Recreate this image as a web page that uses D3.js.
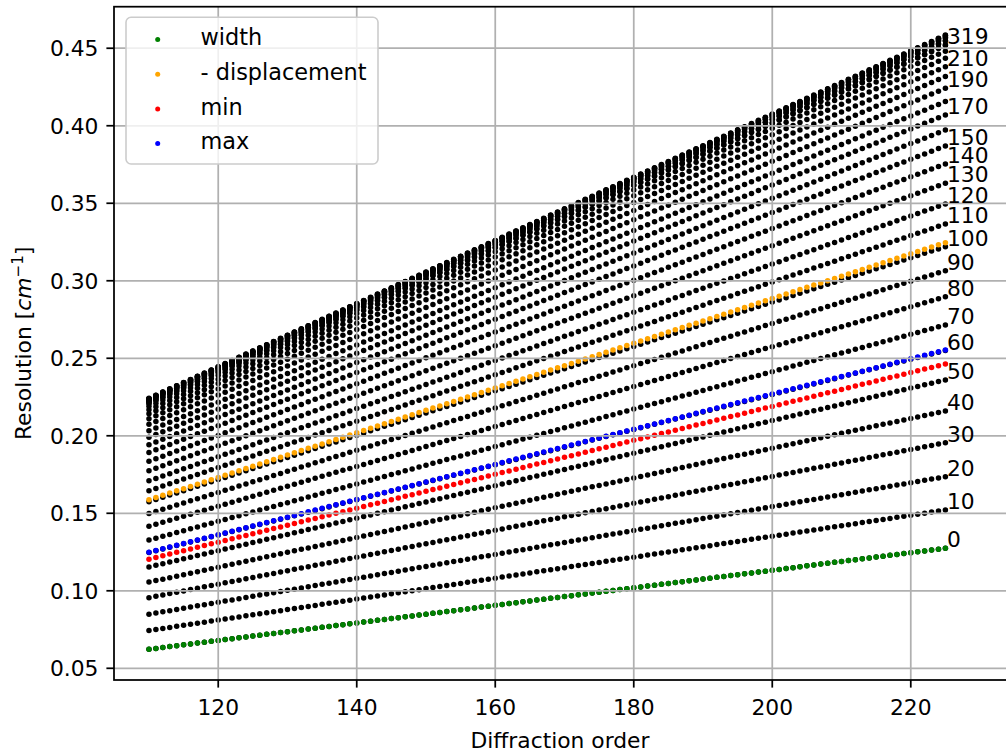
<!DOCTYPE html>
<html>
<head>
<meta charset="utf-8">
<script src="https://cdn.jsdelivr.net/npm/d3@7"></script>
<style>
  body { margin: 0; background: #fff; }
  svg { display: block; font-family: "DejaVu Sans", sans-serif; }
</style>
</head>
<body>
<svg id="chart" width="1006" height="755"></svg>
<script>
// Diffraction orders covered by every curve (one dot per order)
const orders = d3.range(110, 226);
const lastOrder = 225;

// Detector pixel offsets, one black curve each
const pixelOffsets = [0, 10, 20, 30, 40, 50, 60, 70, 80, 90, 100, 110, 120, 130, 140, 150,
  160, 170, 180, 190, 200, 210, 220, 230, 240, 250, 260, 270, 280, 290, 300, 310, 319];
// Resolution [cm^-1] of each pixel curve at the last order (scales linearly with order)
const pixelResolutionAtLast = [0.1274, 0.1521, 0.1736, 0.1955, 0.2160, 0.2360, 0.2550, 0.2715,
  0.2897, 0.3065, 0.3220, 0.3366, 0.3496, 0.3629, 0.3754, 0.3870, 0.3973, 0.4070, 0.4156,
  0.4242, 0.4317, 0.4381, 0.4435, 0.4481, 0.4518, 0.4548, 0.4568, 0.4581, 0.4585, 0.4581,
  0.4568, 0.4548, 0.4522];
// Curves whose pixel offset is written at the right end
const labelledOffsets = [0, 10, 20, 30, 40, 50, 60, 70, 80, 90, 100, 110, 120, 130, 140, 150,
  170, 190, 210, 319];

// Highlighted series
const seriesNames = ["width", "- displacement", "min", "max"];
const seriesColors = ["green", "orange", "red", "blue"];
const seriesResolutionAtLast = [0.1274, 0.3246, 0.2463, 0.2553];

const xTicks = [120, 140, 160, 180, 200, 220];
const yTicks = [0.05, 0.10, 0.15, 0.20, 0.25, 0.30, 0.35, 0.40, 0.45];

const FS = 21.8;           // 10 pt text
const plot = { left: 114, right: 1006, top: 6.7, bottom: 680 };
const frameRight = 1012;   // axes continue past the right edge of the figure

const svg = d3.select("#chart");
const x = d3.scaleLinear().domain([104.95, 233.75]).range([plot.left, plot.right]);
const y = d3.scaleLinear().domain([0.04245, 0.4768]).range([plot.bottom, plot.top]);

const curve = r => orders.map(o => ({ o, v: r * o / lastOrder }));
const dotR = 2.75;

// clip to the axes area
svg.append("defs").append("clipPath").attr("id", "clip")
  .append("rect").attr("x", plot.left).attr("y", plot.top)
  .attr("width", frameRight - plot.left).attr("height", plot.bottom - plot.top);

const dots = svg.append("g").attr("clip-path", "url(#clip)");

// black pixel curves
pixelOffsets.forEach((p, i) => {
  dots.append("g").selectAll("circle").data(curve(pixelResolutionAtLast[i])).join("circle")
    .attr("cx", d => x(d.o)).attr("cy", d => y(d.v)).attr("r", dotR).attr("fill", "black");
});

// coloured series on top
seriesNames.forEach((n, i) => {
  dots.append("g").selectAll("circle").data(curve(seriesResolutionAtLast[i])).join("circle")
    .attr("cx", d => x(d.o)).attr("cy", d => y(d.v)).attr("r", dotR).attr("fill", seriesColors[i]);
});

// grid (drawn above the scatter points)
const grid = svg.append("g").attr("stroke", "#b0b0b0").attr("stroke-width", 1.75);
grid.selectAll(".gx").data(xTicks).join("line")
  .attr("x1", d => x(d)).attr("x2", d => x(d)).attr("y1", plot.top).attr("y2", plot.bottom);
grid.selectAll(".gy").data(yTicks).join("line")
  .attr("y1", d => y(d)).attr("y2", d => y(d)).attr("x1", plot.left).attr("x2", frameRight);

// pixel offset labels at the right end of each curve
const labels = svg.append("g").attr("font-size", FS).attr("fill", "black");
labelledOffsets.forEach(p => {
  const i = pixelOffsets.indexOf(p);
  labels.append("text")
    .attr("x", x(lastOrder) + 1.5)
    .attr("y", y(pixelResolutionAtLast[i]) - 1)
    .text(p);
});

// axes frame
svg.append("rect")
  .attr("x", plot.left).attr("y", plot.top)
  .attr("width", frameRight - plot.left).attr("height", plot.bottom - plot.top)
  .attr("fill", "none").attr("stroke", "black").attr("stroke-width", 1.75);

// ticks
const tickLen = 7.6;
const axisG = svg.append("g").attr("stroke", "black").attr("stroke-width", 1.75);
axisG.selectAll(".tx").data(xTicks).join("line")
  .attr("x1", d => x(d)).attr("x2", d => x(d)).attr("y1", plot.bottom).attr("y2", plot.bottom + tickLen);
axisG.selectAll(".ty").data(yTicks).join("line")
  .attr("y1", d => y(d)).attr("y2", d => y(d)).attr("x1", plot.left - tickLen).attr("x2", plot.left);

const tickText = svg.append("g").attr("font-size", FS).attr("fill", "black");
tickText.selectAll(".lx").data(xTicks).join("text")
  .attr("x", d => x(d)).attr("y", 714.5).attr("text-anchor", "middle").text(d => d);
tickText.selectAll(".ly").data(yTicks).join("text")
  .attr("x", 98.5).attr("y", d => y(d) + 8.2).attr("text-anchor", "end").text(d => d3.format(".2f")(d));

// axis titles
svg.append("text").attr("x", (plot.left + plot.right) / 2).attr("y", 748)
  .attr("text-anchor", "middle").attr("font-size", FS).text("Diffraction order");

const yl = svg.append("text")
  .attr("transform", `translate(31,${(plot.top + plot.bottom) / 2}) rotate(-90)`)
  .attr("text-anchor", "middle").attr("font-size", FS);
yl.append("tspan").text("Resolution [");
yl.append("tspan").attr("font-style", "italic").text("cm");
yl.append("tspan").attr("font-size", FS * 0.7).attr("dy", -8).text("\u22121");
yl.append("tspan").attr("dy", 8).text("]");

// legend
const lg = svg.append("g");
lg.append("rect").attr("x", 126).attr("y", 17.3).attr("width", 252).attr("height", 146.7)
  .attr("rx", 5).attr("fill", "white").attr("fill-opacity", 0.8)
  .attr("stroke", "#cccccc").attr("stroke-width", 1.6);
seriesNames.forEach((n, i) => {
  const cy = 39.5 + i * 34.7;
  lg.append("circle").attr("cx", 157.7).attr("cy", cy).attr("r", 2.5).attr("fill", seriesColors[i]);
  lg.append("text").attr("x", 200.5).attr("y", cy + 5.8).attr("font-size", 22.4).text(n);
});
</script>
</body>
</html>
